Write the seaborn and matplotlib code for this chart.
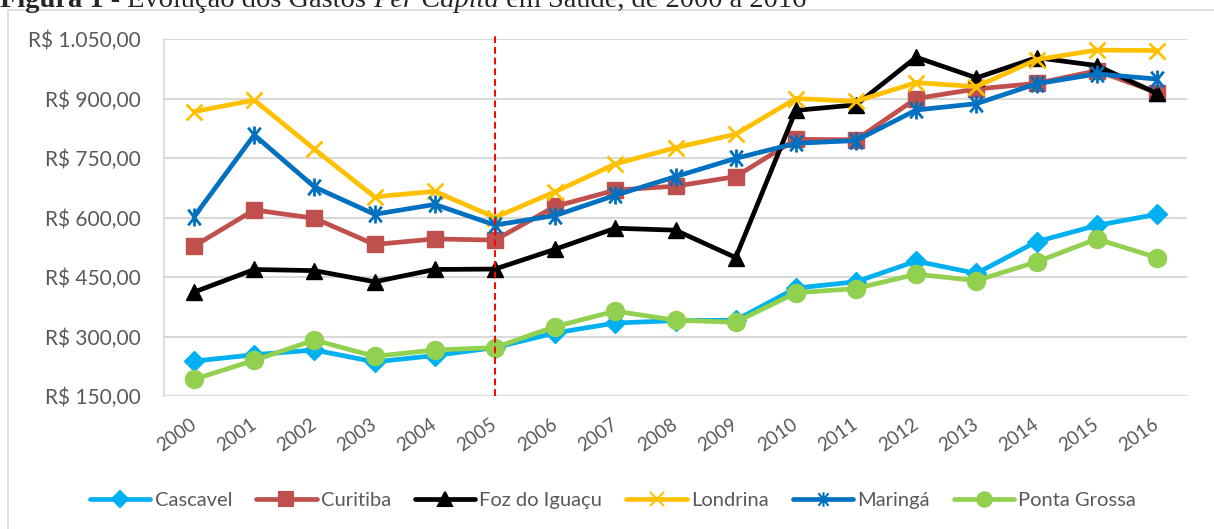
import numpy as np
import pandas as pd
import seaborn as sns
import matplotlib.pyplot as plt
from matplotlib.path import Path
from matplotlib.lines import Line2D
from matplotlib.patches import Rectangle

# dados (R$ per capita)
anos = list(range(2000, 2017))
cascavel = [238, 254, 266, 236, 252, 272, 309, 334, 340, 341, 422, 438, 490, 459, 539, 580, 608]
curitiba = [528, 619, 598, 532, 546, 543, 628, 669, 679, 703, 797, 796, 900, 924, 938, 970, 915]
foz = [412, 469, 466, 438, 469, 470, 520, 573, 568, 499, 870, 884, 1004, 952, 1003, 983, 913]
londrina = [867, 896, 772, 652, 666, 600, 665, 735, 776, 810, 900, 893, 940, 930, 998, 1022, 1021]
maringa = [602, 808, 677, 608, 633, 581, 605, 656, 703, 749, 787, 794, 871, 887, 937, 962, 949]
ponta_grossa = [192, 240, 291, 250, 266, 272, 325, 364, 341, 336, 410, 421, 457, 441, 488, 546, 499]

cidades = ["Cascavel", "Curitiba", "Foz do Iguaçu", "Londrina", "Maringá", "Ponta Grossa"]
series = [cascavel, curitiba, foz, londrina, maringa, ponta_grossa]
cores = ["#00B0F0", "#C0504D", "#000000", "#FFC000", "#0070C0", "#92D050"]

# marcador asterisco estilo Excel
asterisco = Path([(-0.8, -1), (0.8, 1), (-0.8, 1), (0.8, -1), (0, -1.15), (0, 1.15)],
                 [Path.MOVETO, Path.LINETO, Path.MOVETO, Path.LINETO, Path.MOVETO, Path.LINETO])
marcadores = ["D", "s", "^", "x", asterisco, "o"]
tamanhos = [10, 12, 12, 12, 13, 13]

sns.set_theme(style="white")
plt.rcParams["font.family"] = ["Lato", "DejaVu Sans"]

fig = plt.figure(figsize=(12.14, 5.29), dpi=100)
ax = fig.add_axes([164 / 1214, 1 - 396 / 529, (1187 - 164) / 1214, (396 - 39) / 529])

for nome, vals, cor, mk, ms in zip(cidades, series, cores, marcadores, tamanhos):
    df = pd.DataFrame({"ano": anos, "valor": vals})
    sns.lineplot(data=df, x="ano", y="valor", ax=ax, color=cor, lw=3.4,
                 marker=mk, markersize=ms, markeredgecolor=cor, markerfacecolor=cor,
                 markeredgewidth=2 if nome in ("Londrina", "Maringá") else 1, label=nome, legend=False)

ax.axvline(2005, ymin=0, ymax=1.012, color="red", ls=(0, (3.5, 2)), lw=1.4, clip_on=False, zorder=5)

ax.set_xlim(1999.5, 2016.5)
ax.set_ylim(150, 1050)
ax.set_yticks(np.arange(150, 1051, 150))
ax.set_yticklabels(["R$ " + f"{v:,.2f}".replace(",", "X").replace(".", ",").replace("X", ".")
                    for v in np.arange(150, 1051, 150)])
ax.set_xticks(anos)
ax.set_xticklabels([str(a) for a in anos], rotation=35, ha="right", rotation_mode="anchor",
                   va="center")
ax.tick_params(axis="y", length=0, pad=17, labelsize=15, labelcolor="#595959")
ax.tick_params(axis="x", length=0, pad=19, labelsize=13.5, labelcolor="#595959")
ax.set_xlabel("")
ax.set_ylabel("")
ax.grid(axis="y", color="#d9d9d9", lw=1.5)
ax.grid(axis="x", visible=False)
for s in ["top", "right", "bottom"]:
    ax.spines[s].set_visible(False)
ax.spines["left"].set_color("#d9d9d9")
ax.spines["left"].set_linewidth(1.2)

handles = [Line2D([], [], color=c, lw=3.4, marker=m, markersize=s * 0.8, markeredgecolor=c,
                  markerfacecolor=c, markeredgewidth=1.5)
           for c, m, s in zip(cores, marcadores, tamanhos)]
fig.legend(handles, cidades, loc="center", bbox_to_anchor=(613 / 1214, 1 - 500 / 529), ncol=6,
           frameon=False, fontsize=14.5, labelcolor="#595959", handlelength=3.0,
           handletextpad=0.2, columnspacing=1.2)

# moldura do gráfico
fig.patches.append(Rectangle((8 / 1214, -0.05), 1.1, 1.05 - 10 / 529, transform=fig.transFigure,
                             fill=False, edgecolor="#d9d9d9", lw=1.2))

# título (cortado no topo da imagem, como no original)
fam = ["Liberation Serif"]
base = 1 - 7 / 529
t1 = fig.text(0.0, base, "Figura 1 - ", fontsize=20.5, fontweight="bold", family=fam,
              va="baseline", ha="left")
partes = [("Evolução dos Gastos ", "normal"), ("Per Capita", "italic"),
          (" em Saúde, de 2000 a 2016", "normal")]
fig.canvas.draw()
r = fig.canvas.get_renderer()
x = t1.get_window_extent(r).x1
for txt, estilo in partes:
    t = fig.text(x / fig.bbox.width, base, txt, fontsize=20.5, family=fam, style=estilo,
                 va="baseline", ha="left")
    fig.canvas.draw()
    x = t.get_window_extent(r).x1

fig.savefig("out.png", dpi=100)
